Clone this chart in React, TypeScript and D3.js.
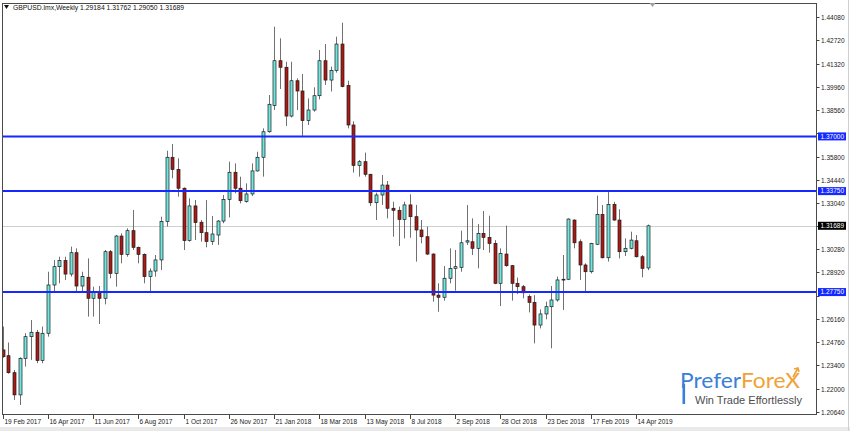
import React, { useEffect, useRef } from 'react';
import * as d3 from 'd3';

const WIDTH = 850;
const HEIGHT = 431;

const symbolTitle = 'GBPUSD.lmx,Weekly';
const lastQuote = ['1.29184', '1.31762', '1.29050', '1.31689'];

// one label every 8 weekly bars, starting at bar 0
const dateLabels = [
  '19 Feb 2017', '16 Apr 2017', '11 Jun 2017', '6 Aug 2017', '1 Oct 2017',
  '26 Nov 2017', '21 Jan 2018', '18 Mar 2018', '13 May 2018', '8 Jul 2018',
  '2 Sep 2018', '28 Oct 2018', '23 Dec 2018', '17 Feb 2019', '14 Apr 2019',
];
const LABEL_STEP = 8;

const priceTicks = [
  1.4408, 1.4272, 1.4132, 1.3996, 1.3856, 1.372, 1.358, 1.3444, 1.3304,
  1.3168, 1.3028, 1.2892, 1.2752, 1.2616, 1.2476, 1.234, 1.22, 1.2064,
];

const levels = [1.37, 1.3375, 1.2775];
const bidPrice = 1.31689;

const opens = [
  1.2431, 1.2397, 1.2296, 1.2164, 1.2381, 1.2510, 1.2536, 1.2368, 1.2530, 1.2817,
  1.2926, 1.2962, 1.2882, 1.3009, 1.2811, 1.2863, 1.2738, 1.2772, 1.2738, 1.3015,
  1.2886, 1.3108, 1.2999, 1.3140, 1.3041, 1.2999, 1.2867, 1.2900, 1.2966, 1.3194,
  1.3576, 1.3504, 1.3392, 1.3081, 1.3287, 1.3190, 1.3128, 1.3075, 1.3114, 1.3197,
  1.3326, 1.3487, 1.3392, 1.3313, 1.3358, 1.3495, 1.3576, 1.3728, 1.3883, 1.4150,
  1.4111, 1.3821, 1.4031, 1.3970, 1.3794, 1.3857, 1.3942, 1.4150, 1.4035, 1.4091,
  1.4249, 1.4002, 1.3768, 1.3528, 1.3550, 1.3475, 1.3306, 1.3352, 1.3411, 1.3273,
  1.3261, 1.3207, 1.3293, 1.3223, 1.3144, 1.3104, 1.3001, 1.2757, 1.2744, 1.2857,
  1.2916, 1.2922, 1.3072, 1.3074, 1.3035, 1.3124, 1.3100, 1.3064, 1.2827, 1.3001,
  1.2932, 1.2827, 1.2807, 1.2748, 1.2714, 1.2579, 1.2645, 1.2688, 1.2728, 1.2849,
  1.2851, 1.3203, 1.3074, 1.2936, 1.2896, 1.3059, 1.3237, 1.2979, 1.3296, 1.3203,
  1.3015, 1.3035, 1.3080, 1.2985, 1.29184,
];
const highs = [
  1.2570, 1.2475, 1.2312, 1.2387, 1.2530, 1.2609, 1.2550, 1.2570, 1.2896, 1.2966,
  1.2985, 1.2985, 1.3045, 1.3035, 1.2896, 1.2975, 1.2807, 1.2811, 1.3025, 1.3025,
  1.3114, 1.3124, 1.3154, 1.3263, 1.3045, 1.3005, 1.2916, 1.2995, 1.3223, 1.3615,
  1.3655, 1.3570, 1.3397, 1.3332, 1.3322, 1.3203, 1.3322, 1.3227, 1.3203, 1.3352,
  1.3550, 1.3540, 1.3461, 1.3421, 1.3540, 1.3609, 1.3748, 1.3946, 1.4352, 1.4283,
  1.4144, 1.4144, 1.4045, 1.4071, 1.3926, 1.3992, 1.4214, 1.4249, 1.4115, 1.4293,
  1.4376, 1.4031, 1.3790, 1.3560, 1.3604, 1.3477, 1.3366, 1.3471, 1.3435, 1.3312,
  1.3283, 1.3312, 1.3356, 1.3293, 1.3203, 1.3164, 1.3005, 1.2827, 1.2930, 1.3035,
  1.3025, 1.3140, 1.3292, 1.3213, 1.3179, 1.3257, 1.3229, 1.3084, 1.3035, 1.3170,
  1.2936, 1.2861, 1.2817, 1.2761, 1.2757, 1.2672, 1.2718, 1.2811, 1.2867, 1.2995,
  1.3213, 1.3207, 1.3088, 1.2946, 1.3068, 1.3348, 1.3292, 1.3372, 1.3311, 1.3267,
  1.3094, 1.3134, 1.3114, 1.2995, 1.31762,
];
const lows = [
  1.2385, 1.2290, 1.2134, 1.2104, 1.2332, 1.2372, 1.2352, 1.2352, 1.2510, 1.2778,
  1.2827, 1.2847, 1.2867, 1.2772, 1.2772, 1.2629, 1.2629, 1.2585, 1.2702, 1.2857,
  1.2807, 1.2946, 1.2985, 1.3025, 1.2946, 1.2827, 1.2778, 1.2867, 1.2906, 1.3164,
  1.3451, 1.3342, 1.3025, 1.3075, 1.3084, 1.3075, 1.3041, 1.3055, 1.3055, 1.3184,
  1.3219, 1.3362, 1.3302, 1.3306, 1.3346, 1.3491, 1.3461, 1.3722, 1.3857, 1.3982,
  1.3762, 1.3813, 1.3857, 1.3703, 1.3768, 1.3847, 1.3920, 1.4006, 1.3967, 1.4079,
  1.3992, 1.3748, 1.3485, 1.3461, 1.3461, 1.3287, 1.3203, 1.3293, 1.3213, 1.3104,
  1.3049, 1.3094, 1.3098, 1.2956, 1.3065, 1.2995, 1.2718, 1.2658, 1.2724, 1.2827,
  1.2783, 1.2896, 1.3055, 1.2995, 1.2916, 1.3025, 1.3009, 1.2822, 1.2692, 1.2926,
  1.2724, 1.2763, 1.2738, 1.2654, 1.2470, 1.2559, 1.2613, 1.2441, 1.2718, 1.2668,
  1.2847, 1.3035, 1.2847, 1.2777, 1.2886, 1.3055, 1.2975, 1.2956, 1.3199, 1.2975,
  1.2989, 1.3029, 1.2981, 1.2862, 1.29050,
];
const closes = [
  1.2391, 1.2296, 1.2164, 1.2381, 1.2510, 1.2536, 1.2368, 1.2530, 1.2817, 1.2926,
  1.2962, 1.2882, 1.3009, 1.2811, 1.2867, 1.2738, 1.2772, 1.2738, 1.3015, 1.2886,
  1.3108, 1.2999, 1.3140, 1.3041, 1.2999, 1.2867, 1.2900, 1.2966, 1.3194, 1.3576,
  1.3504, 1.3392, 1.3081, 1.3287, 1.3188, 1.3128, 1.3075, 1.3120, 1.3197, 1.3326,
  1.3487, 1.3392, 1.3318, 1.3358, 1.3495, 1.3576, 1.3728, 1.3891, 1.4150, 1.4111,
  1.3821, 1.4031, 1.3970, 1.3794, 1.3857, 1.3942, 1.4150, 1.4035, 1.4091, 1.4249,
  1.3996, 1.3768, 1.3528, 1.3550, 1.3475, 1.3306, 1.3352, 1.3411, 1.3273, 1.3261,
  1.3207, 1.3293, 1.3223, 1.3144, 1.3104, 1.3001, 1.2757, 1.2744, 1.2857, 1.2916,
  1.2926, 1.3068, 1.3080, 1.3035, 1.3124, 1.3100, 1.3064, 1.2827, 1.3005, 1.2932,
  1.2827, 1.2807, 1.2771, 1.2714, 1.2579, 1.2645, 1.2688, 1.2728, 1.2847, 1.2851,
  1.3209, 1.3068, 1.2936, 1.2896, 1.3064, 1.3237, 1.2979, 1.3296, 1.3203, 1.3015,
  1.3035, 1.3084, 1.2985, 1.2916, 1.31689,
];

interface Candle {
  i: number;
  o: number;
  h: number;
  l: number;
  c: number;
}

const UP_FILL = '#6fe6df';
const DOWN_FILL = '#ad1a14';
const LEVEL_COLOR = '#1428ff';
const FONT = '"Liberation Sans", Arial, sans-serif';

const App: React.FC = () => {
  const svgRef = useRef<SVGSVGElement>(null);

  useEffect(() => {
    document.body.style.margin = '0';
    document.body.style.overflow = 'hidden';
    if (!svgRef.current) return;

    const svg = d3.select(svgRef.current);
    svg.selectAll('*').remove();

    const plot = { left: 2, right: 816, top: 3, bottom: 414 };

    const candles: Candle[] = opens.map((o, i) => ({ i, o, h: highs[i], l: lows[i], c: closes[i] }));

    // calibrated on the first and the last labelled bar / price tick
    const x = d3
      .scaleLinear()
      .domain([0, (dateLabels.length - 1) * LABEL_STEP])
      .range([2.7, 636.2]);
    const y = d3.scaleLinear().domain([1.4408, 1.2064]).range([17.3, 411.7]);

    svg.append('rect').attr('width', WIDTH).attr('height', HEIGHT).attr('fill', '#fff');
    svg
      .append('rect')
      .attr('x', 0)
      .attr('y', 427)
      .attr('width', WIDTH)
      .attr('height', HEIGHT - 427)
      .attr('fill', '#e9e9e9');
    svg
      .append('line')
      .attr('x1', WIDTH - 1.5)
      .attr('x2', WIDTH - 1.5)
      .attr('y1', 0)
      .attr('y2', HEIGHT)
      .attr('stroke', '#d0d0d0');

    const defs = svg.append('defs');
    defs
      .append('clipPath')
      .attr('id', 'plot-clip')
      .append('rect')
      .attr('x', plot.left)
      .attr('y', plot.top)
      .attr('width', plot.right - plot.left)
      .attr('height', plot.bottom - plot.top);

    const chart = svg.append('g').attr('clip-path', 'url(#plot-clip)');

    // bid line
    const by = Math.round(y(bidPrice)) + 0.5;
    chart
      .append('line')
      .attr('x1', plot.left)
      .attr('x2', plot.right)
      .attr('y1', by)
      .attr('y2', by)
      .attr('stroke', '#cfcfcf')
      .attr('stroke-width', 1);

    const cx = (d: Candle) => Math.round(x(d.i));

    chart
      .selectAll('line.wick')
      .data(candles)
      .enter()
      .append('line')
      .attr('class', 'wick')
      .attr('x1', (d) => cx(d) + 0.5)
      .attr('x2', (d) => cx(d) + 0.5)
      .attr('y1', (d) => y(d.h))
      .attr('y2', (d) => y(d.l))
      .attr('stroke', '#707070')
      .attr('stroke-width', 1);

    chart
      .selectAll('rect.body')
      .data(candles)
      .enter()
      .append('rect')
      .attr('class', 'body')
      .attr('x', (d) => cx(d) - 1)
      .attr('width', 3)
      .attr('y', (d) => y(Math.max(d.o, d.c)))
      .attr('height', (d) => Math.max(0.8, Math.abs(y(d.o) - y(d.c))))
      .attr('fill', (d) => (d.c >= d.o ? UP_FILL : DOWN_FILL))
      .attr('stroke', '#1b1b1b')
      .attr('stroke-width', 0.7);

    chart
      .selectAll('line.level')
      .data(levels)
      .enter()
      .append('line')
      .attr('class', 'level')
      .attr('x1', plot.left)
      .attr('x2', plot.right)
      .attr('y1', (d) => y(d))
      .attr('y2', (d) => y(d))
      .attr('stroke', LEVEL_COLOR)
      .attr('stroke-width', 2);

    // frame
    svg
      .append('rect')
      .attr('x', plot.left + 0.5)
      .attr('y', plot.top + 0.5)
      .attr('width', plot.right - plot.left)
      .attr('height', plot.bottom - plot.top)
      .attr('fill', 'none')
      .attr('stroke', '#4a4a4a')
      .attr('stroke-width', 1);

    // price axis; a tick label hidden under a price tag is left out, as the terminal covers it
    const tagged = [...levels, bidPrice];
    const priceAxis = svg.append('g');
    priceTicks.forEach((p) => {
      const ty = Math.round(y(p)) + 0.5;
      priceAxis
        .append('line')
        .attr('x1', plot.right + 0.5)
        .attr('x2', plot.right + 3.5)
        .attr('y1', ty)
        .attr('y2', ty)
        .attr('stroke', '#444');
      if (tagged.some((t) => Math.abs(y(t) - ty) < 8)) return;
      priceAxis
        .append('text')
        .attr('x', plot.right + 5)
        .attr('y', ty)
        .attr('dy', '0.35em')
        .attr('font-family', FONT)
        .attr('font-size', 6.5)
        .attr('fill', '#222')
        .text(p.toFixed(5));
    });

    const priceTag = (p: number, bg: string, label: string) => {
      const ty = y(p);
      priceAxis
        .append('rect')
        .attr('x', plot.right + 2)
        .attr('y', ty - 4)
        .attr('width', 28)
        .attr('height', 8)
        .attr('fill', bg);
      priceAxis
        .append('text')
        .attr('x', plot.right + 4.5)
        .attr('y', ty)
        .attr('dy', '0.35em')
        .attr('font-family', FONT)
        .attr('font-size', 6.5)
        .attr('fill', '#fff')
        .text(label);
    };
    levels.forEach((lv) => priceTag(lv, LEVEL_COLOR, lv.toFixed(5)));
    priceTag(bidPrice, '#000', bidPrice.toFixed(5));

    // time axis
    const timeAxis = svg.append('g');
    dateLabels.forEach((label, k) => {
      const tx = Math.round(x(k * LABEL_STEP)) + 0.5;
      timeAxis
        .append('line')
        .attr('x1', tx)
        .attr('x2', tx)
        .attr('y1', plot.bottom + 0.5)
        .attr('y2', plot.bottom + 5)
        .attr('stroke', '#444');
      timeAxis
        .append('text')
        .attr('x', tx + 1)
        .attr('y', 424)
        .attr('font-family', FONT)
        .attr('font-size', 6.5)
        .attr('fill', '#222')
        .text(label);
    });

    // header
    svg
      .append('path')
      .attr('d', 'M4,5 L9,5 L6.5,9 Z')
      .attr('fill', '#111');
    svg
      .append('text')
      .attr('x', 13)
      .attr('y', 10)
      .attr('font-family', FONT)
      .attr('font-size', 6.8)
      .attr('fill', '#111')
      .text(`${symbolTitle}  ${lastQuote.join(' ')}`);

    // chart shift marker
    const sx = x(opens.length - 1) + 5;
    svg
      .append('path')
      .attr('d', `M${sx - 3},${plot.top} L${sx + 3},${plot.top} L${sx},${plot.top + 4} Z`)
      .attr('fill', '#a0a0a0');

    // logo
    const logo = svg.append('g');
    logo
      .append('rect')
      .attr('x', 682.5)
      .attr('y', 384)
      .attr('width', 2.6)
      .attr('height', 20)
      .attr('fill', '#3b7fd6');
    const brand = logo
      .append('text')
      .attr('x', 680)
      .attr('y', 388)
      .attr('font-family', 'Lato, "Open Sans", sans-serif')
      .attr('font-size', 22)
      .attr('textLength', 120)
      .attr('lengthAdjust', 'spacingAndGlyphs');
    brand.append('tspan').attr('fill', '#3b7fd6').text('Prefer');
    brand.append('tspan').attr('fill', '#f0a236').text('ForeX');
    logo
      .append('path')
      .attr('d', 'M793,377 L798,368 M794,369 L798,368 L799,372')
      .attr('fill', 'none')
      .attr('stroke', '#f0a236')
      .attr('stroke-width', 1.6);
    logo
      .append('text')
      .attr('x', 695)
      .attr('y', 404)
      .attr('font-family', FONT)
      .attr('font-size', 10)
      .attr('textLength', 107)
      .attr('lengthAdjust', 'spacingAndGlyphs')
      .attr('fill', '#4d4d4d')
      .text('Win Trade Effortlessly');
  }, []);

  return <svg ref={svgRef} width={WIDTH} height={HEIGHT} style={{ display: 'block' }} />;
};

export default App;
